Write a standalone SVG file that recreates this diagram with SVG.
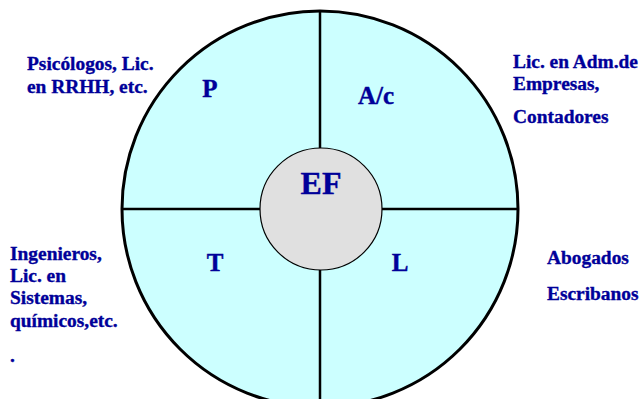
<svg xmlns="http://www.w3.org/2000/svg" width="640" height="399" viewBox="0 0 640 399">
<style>
.lbl{font-family:"Liberation Serif","Times New Roman",serif;font-weight:bold;fill:#000099;stroke:#000099;stroke-width:0.35;font-size:19.4px}
.big{font-family:"Liberation Serif","Times New Roman",serif;font-weight:bold;fill:#000099;stroke:#000099;stroke-width:0.4;font-size:25px}
</style>
<rect width="640" height="399" fill="#ffffff"/>
<g id="outer">
<circle cx="320" cy="209" r="198" fill="#ccffff" stroke="#000" stroke-width="3"/>
</g>
<g id="connectors" stroke="#000" stroke-width="2.5">
<line x1="320" y1="12" x2="320" y2="148"/>
<line x1="320" y1="270" x2="320" y2="399"/>
<line x1="122" y1="209" x2="260" y2="209"/>
<line x1="382" y1="209" x2="518" y2="209"/>
</g>
<g id="EF">
<circle cx="321" cy="209" r="61" fill="#e0e0e0" stroke="#000" stroke-width="1.2"/>
<text class="big" x="321" y="194" text-anchor="middle" style="font-size:32px">EF</text>
</g>
<g id="P"><text class="big" x="210" y="97" text-anchor="middle">P</text></g>
<g id="Ac"><text class="big" x="376" y="104" text-anchor="middle">A/c</text></g>
<g id="T"><text class="big" x="215" y="271" text-anchor="middle">T</text></g>
<g id="L"><text class="big" x="400" y="271" text-anchor="middle">L</text></g>
<g id="psicologos">
<text class="lbl" x="27" y="70">Psicólogos, Lic.</text>
<text class="lbl" x="27" y="93">en RRHH, etc.</text>
</g>
<g id="admin">
<text class="lbl" x="513" y="68">Lic. en Adm.de</text>
<text class="lbl" x="513" y="90">Empresas,</text>
<text class="lbl" x="513" y="123">Contadores</text>
</g>
<g id="ingenieros">
<text class="lbl" x="10" y="260">Ingenieros,</text>
<text class="lbl" x="10" y="282">Lic. en</text>
<text class="lbl" x="10" y="304">Sistemas,</text>
<text class="lbl" x="10" y="327">químicos,etc.</text>
<text class="lbl" x="10" y="362">.</text>
</g>
<g id="abogados">
<text class="lbl" x="547" y="264">Abogados</text>
<text class="lbl" x="547" y="300">Escribanos</text>
</g>
</svg>
